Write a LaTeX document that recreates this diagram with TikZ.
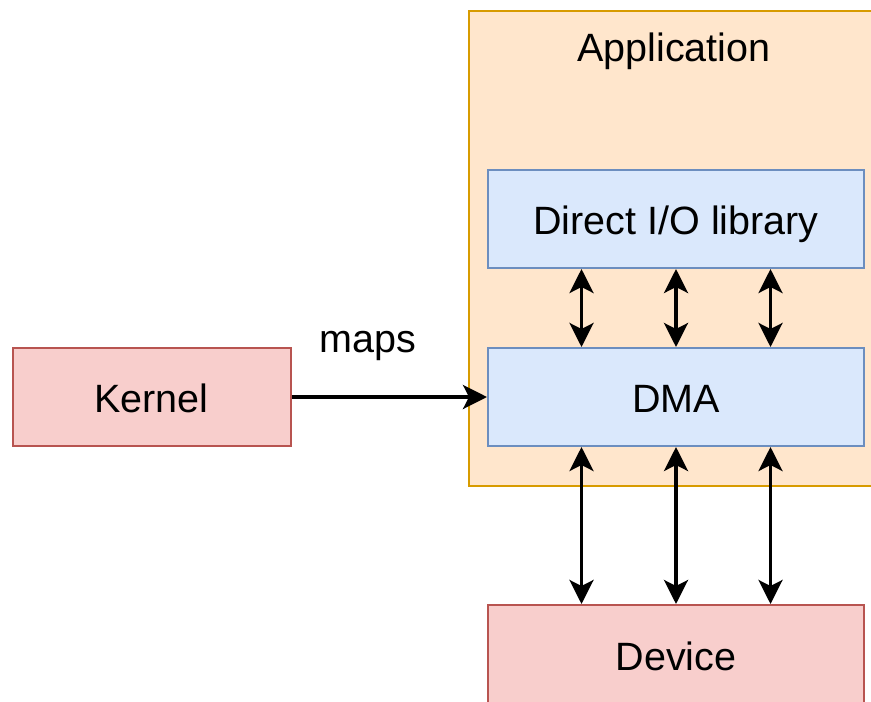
\documentclass[tikz,border=0pt]{standalone}
\usepackage{fontspec}
\setmainfont{Liberation Sans}
\usetikzlibrary{arrows.meta,calc}
\definecolor{appfill}{HTML}{FFE6CC}
\definecolor{appdraw}{HTML}{D79B00}
\definecolor{bluefill}{HTML}{DAE8FC}
\definecolor{bluedraw}{HTML}{6C8EBF}
\definecolor{redfill}{HTML}{F8CECC}
\definecolor{reddraw}{HTML}{B85450}
\tikzset{
  bigtext/.style={font=\fontsize{39.5}{46}\selectfont},
  box/.style={draw, line width=2pt, bigtext, text height=30pt, text depth=0pt},
  bluebox/.style={box, fill=bluefill, draw=bluedraw},
  redbox/.style={box, fill=redfill, draw=reddraw},
  conn/.style={line width=3.5pt, -{Stealth[length=24pt,width=24pt,inset=6pt]}},
  biconn/.style={line width=3.5pt, {Stealth[length=24pt,width=24pt,inset=6pt]}-{Stealth[length=24pt,width=24pt,inset=6pt]}},
}
\begin{document}
\begin{tikzpicture}[x=1pt,y=-1pt]
\useasboundingbox (0,0) rectangle (871,702);
\clip (0,0) rectangle (871,702);
% application container
\draw[line width=2pt, fill=appfill, draw=appdraw] (469,11) rectangle (890,486);
\node[bigtext, anchor=base] (apptitle) at (674,61.5) {Application};
% inner boxes
\node[bluebox, minimum width=376pt, minimum height=98pt] (dio) at (676,219) {Direct I/O library};
\node[bluebox, minimum width=376pt, minimum height=98pt] (dma) at (676,397) {DMA};
\node[redbox, minimum width=278pt, minimum height=98pt] (kernel) at (151.5,397) {Kernel};
\node[redbox, minimum width=376pt, minimum height=116pt] (device) at (676,663) {};
\node[bigtext, anchor=base] (devlabel) at (676,670.5) {Device};
% connectors
\draw[conn] (kernel.east) -- (dma.west);
\node[bigtext, anchor=base] (mapslabel) at (368,352) {maps};
\foreach \f in {0.25,0.5,0.75}{
  \draw[biconn] ($(dio.south west)!\f!(dio.south east)$) -- ($(dma.north west)!\f!(dma.north east)$);
  \draw[biconn] ($(dma.south west)!\f!(dma.south east)$) -- ($(device.north west)!\f!(device.north east)$);
}
\end{tikzpicture}
\end{document}
